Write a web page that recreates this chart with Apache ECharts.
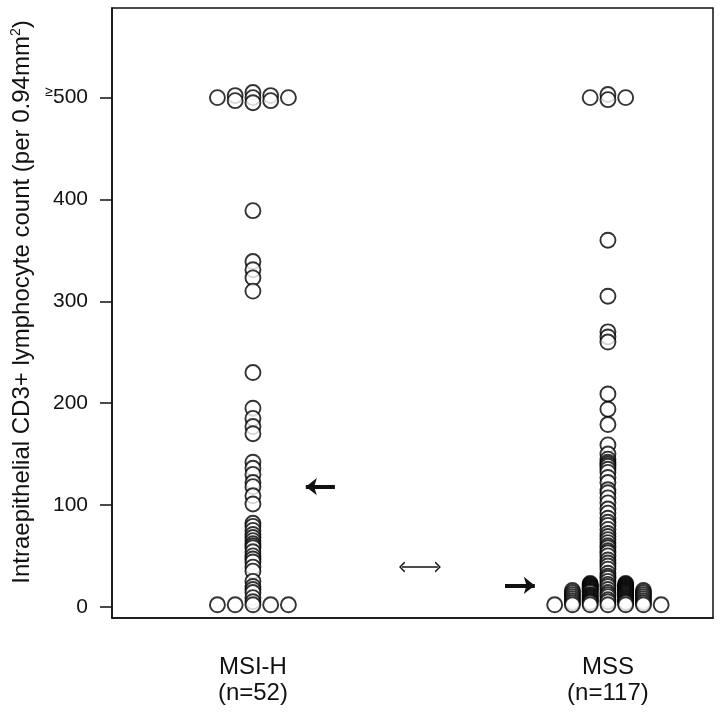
<!DOCTYPE html>
<html>
<head>
<meta charset="utf-8">
<script src="https://cdn.jsdelivr.net/npm/echarts@6/dist/echarts.min.js"></script>
<style>
  html, body { margin: 0; padding: 0; background: #fff; }
  #dot-chart { width: 720px; height: 713px; }
</style>
</head>
<body>
<div id="dot-chart"></div>
<script>
// ==============================================================
// data
// ==============================================================
var categories = ['MSI-H', 'MSS'];
var groupCounts = [52, 117];
var yTicks = [0, 100, 200, 300, 400, 500];

// MSI-H : slot = side-by-side position of the dot (0 = centre column)
var msiSlots = [-2, -1, -1, 0, 0, 0, 1, 1, 2,
  0, 0, 0, 0, 0, 0, 0, 0, 0, 0, 0, 0, 0, 0, 0, 0, 0, 0, 0,
  0, 0, 0, 0, 0, 0, 0, 0, 0, 0, 0, 0, 0, 0, 0, 0, 0, 0, 0,
  -2, -1, 0, 1, 2];
var msiValues = [500, 502, 497, 505, 500, 495, 502, 497, 500,
  389, 339, 331, 323, 310, 230, 195, 185, 177, 170, 142, 136, 130, 122, 118, 109, 101, 82, 79,
  75, 71, 68, 65, 62, 60, 58, 54, 50, 47, 44, 39, 35, 25, 20, 17, 14, 9, 5,
  2, 2, 2, 2, 2];

// MSS
var mssCentre = [503, 498, 360, 305, 270, 265, 260, 209, 194, 179, 159, 150, 145, 142, 140, 138, 135, 132, 127,
  122, 115, 112, 107, 102, 96, 92, 87, 83, 80, 76, 72, 69, 66, 63, 60, 58, 55, 53, 50,
  46, 43, 40, 37, 33, 30, 28, 25, 22, 20, 17, 14, 12, 10, 7, 5, 2];
var mssLeft1 = [500, 23, 22, 21, 20, 19, 18, 17, 16, 15, 14, 12, 11, 10, 9, 8, 7, 6, 5, 4, 2];
var mssRight1 = [500, 23, 22, 21, 20, 19, 18, 17, 16, 15, 14, 13, 12, 11, 10, 9, 8, 7, 6, 5, 4, 2];
var mssSide2 = [16, 14, 12, 10, 8, 6, 4, 2];
var mssSide3 = [2];

// median arrows and the comparison arrow
var medians = [118, 21];
var compareLevel = 39;

// ==============================================================
var slotWidth = 0.05;

function dots(group, slot, values) {
    return values.map(function (v) { return [group + slot * slotWidth, v]; });
}

var msiData = msiValues.map(function (v, i) { return [0 + msiSlots[i] * slotWidth, v]; });
var mssData = [].concat(
    dots(1, -3, mssSide3), dots(1, 3, mssSide3),
    dots(1, -2, mssSide2), dots(1, 2, mssSide2),
    dots(1, -1, mssLeft1), dots(1, 1, mssRight1),
    dots(1, 0, mssCentre)
);

var font = "'Liberation Sans', Arial, sans-serif";
var chevron = 'path://M5,0 L10,9 L8.6,10 L5,3.2 L1.4,10 L0,9 Z';

var myChart = echarts.init(document.getElementById('dot-chart'));

var circleStyle = { color: '#fff', borderColor: '#000', borderWidth: 1.9 };

option = {
    animation: false,
    backgroundColor: '#fff',
    grid: {
        left: 112, top: 8, right: 7, bottom: 95,
        show: true, borderColor: '#111', borderWidth: 1.5
    },
    xAxis: {
        type: 'value',
        min: -0.397, max: 1.296,
        splitLine: { show: false },
        axisLine: { show: true, onZero: false, lineStyle: { color: '#111', width: 1.5 } },
        axisTick: { show: false },
        axisLabel: {
            customValues: [0, 1],
            margin: 36,
            fontFamily: font, fontSize: 24, color: '#111', lineHeight: 26,
            formatter: function (v) {
                var i = Math.round(v);
                return categories[i] + '\n(n=' + groupCounts[i] + ')';
            }
        }
    },
    yAxis: {
        type: 'value',
        min: -11, max: 588,
        splitLine: { show: false },
        axisLine: { show: true, onZero: false, lineStyle: { color: '#111', width: 1.5 } },
        axisTick: { show: true, inside: false, length: 12, customValues: yTicks, lineStyle: { color: '#111', width: 1.5 } },
        axisLabel: {
            customValues: yTicks,
            margin: 24,
            fontFamily: font, fontSize: 21, color: '#111',
            formatter: function (v) { return v === 500 ? '{ge|≥}500' : String(v); },
            rich: { ge: { fontFamily: font, fontSize: 14, color: '#111', verticalAlign: 'top', padding: [0, 0, 10, 0] } }
        },
        name: 'Intraepithelial CD3+ lymphocyte count (per 0.94mm{sup|2})',
        nameLocation: 'middle',
        nameGap: 76,
        nameTextStyle: {
            fontFamily: font, fontSize: 24, color: '#111', padding: [0, 0, 0, 22],
            rich: { sup: { fontFamily: font, fontSize: 14, color: '#111', padding: [0, 0, 12, 0] } }
        }
    },
    series: [
        {
            name: categories[0],
            type: 'scatter',
            symbol: 'circle',
            symbolSize: 15,
            itemStyle: circleStyle,
            data: msiData,
            markLine: {
                silent: true,
                symbol: ['none', 'arrow'],
                symbolSize: [13, 11],
                label: { show: false },
                lineStyle: { color: '#111', width: 4, type: 'solid' },
                data: [[{ coord: [0.231, medians[0]] }, { coord: [0.149, medians[0]] }]]
            }
        },
        {
            name: categories[1],
            type: 'scatter',
            symbol: 'circle',
            symbolSize: 15,
            itemStyle: circleStyle,
            data: mssData,
            markLine: {
                silent: true,
                label: { show: false },
                data: [
                    [{ coord: [0.710, medians[1]], symbol: 'none', lineStyle: { color: '#111', width: 4, type: 'solid' } },
                     { coord: [0.794, medians[1]], symbol: 'arrow', symbolSize: [13, 11] }],
                    [{ coord: [0.42, compareLevel], symbol: chevron, symbolSize: [11, 6], lineStyle: { color: '#111', width: 1.5, type: 'solid' } },
                     { coord: [0.521, compareLevel], symbol: chevron, symbolSize: [11, 6] }]
                ]
            }
        }
    ]
};

myChart.setOption(option, true);
</script>
</body>
</html>
